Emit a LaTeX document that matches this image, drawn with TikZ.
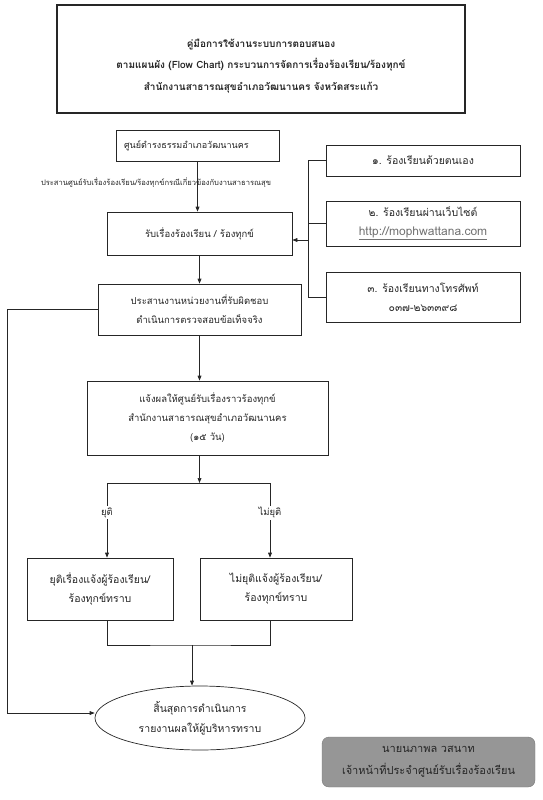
\documentclass[tikz,border=0pt]{standalone}
\usepackage{fontspec}
\newfontfamily\thaifont[Script=Thai]{Loma}
\usetikzlibrary{positioning, arrows.meta, shapes.geometric}
\definecolor{ink}{RGB}{38,38,38}
\definecolor{urlgrey}{RGB}{115,115,115}
\definecolor{plate}{RGB}{150,150,150}

\begin{document}
\begin{tikzpicture}[x=1pt, y=-1pt,
    box/.style={draw=ink, line width=0.7pt, fill=white, text=ink, align=center,
                font=\thaifont\fontsize{9.5}{19}\selectfont, inner sep=2pt},
    srcbox/.style={box, minimum width=194pt, font=\thaifont\fontsize{10.5}{19}\selectfont},
    link/.style={draw=ink, line width=0.7pt},
    arr/.style={link, -{Triangle[length=5pt, width=3.8pt]}},
    tag/.style={font=\thaifont\fontsize{9.5}{11}\selectfont, text=ink, fill=white, inner sep=1.5pt}
  ]
  \useasboundingbox (0,0) rectangle (542,800);

  % heading
  \node[box, line width=1.3pt, minimum width=408pt, minimum height=108pt] (title) at (261,59) {};
  \node[text=ink, align=center, font=\thaifont\bfseries\fontsize{10}{21.5}\selectfont,
        yshift=-7pt] (heading) at (title.center)
       {คู่มือการใช้งานระบบการตอบสนอง\\
        ตามแผนผัง (Flow Chart) กระบวนการจัดการเรื่องร้องเรียน/ร้องทุกข์\\
        สำนักงานสาธารณสุขอำเภอวัฒนานคร จังหวัดสระแก้ว};

  % main chain
  \node[box, minimum width=163pt, minimum height=31pt, text width=147pt, align=left,
        font=\thaifont\fontsize{9}{10}\selectfont]
       (center) at (197.5,145.5) {ศูนย์ดำรงธรรมอำเภอวัฒนานคร};
  \node[font=\thaifont\fontsize{7.6}{8}\selectfont, text=ink] (relay) at (156,183)
       {ประสานศูนย์รับเรื่องร้องเรียน/ร้องทุกข์กรณีเกี่ยวข้องกับงานสาธารณสุข};
  \node[box, minimum width=185pt, minimum height=43pt] (intake) at (199.5,233.5)
       {รับเรื่องร้องเรียน / ร้องทุกข์};
  \node[box, minimum width=203pt, minimum height=51pt] (check) at (199.5,309.5)
       {ประสานงานหน่วยงานที่รับผิดชอบ\\ดำเนินการตรวจสอบข้อเท็จจริง};
  \node[box, minimum width=241pt, minimum height=74pt] (notify) at (207.5,418)
       {แจ้งผลให้ศูนย์รับเรื่องราวร้องทุกข์\\สำนักงานสาธารณสุขอำเภอวัฒนานคร\\(๑๕ วัน)};
  \node[box, minimum width=146pt, minimum height=62pt, font=\thaifont\fontsize{10.5}{19}\selectfont]
       (closed) at (100,589) {ยุติเรื่องแจ้งผู้ร้องเรียน/\\ร้องทุกข์ทราบ};
  \node[box, minimum width=152pt, minimum height=62pt, font=\thaifont\fontsize{10.5}{19}\selectfont]
       (open) at (276,589) {ไม่ยุติแจ้งผู้ร้องเรียน/\\ร้องทุกข์ทราบ};
  \node[box, ellipse, minimum width=210pt, minimum height=64pt,
        font=\thaifont\fontsize{10.5}{20}\selectfont] (done) at (200,718)
       {สิ้นสุดการดำเนินการ\\รายงานผลให้ผู้บริหารทราบ};

  % channels
  \node[srcbox, minimum height=31pt] (walkin) at (423,160.5) {๑. ร้องเรียนด้วยตนเอง};
  \node[srcbox, minimum height=45pt] (web) at (423,223.5)
       {๒. ร้องเรียนผ่านเว็บไซต์\\{\fontsize{12}{19}\selectfont\color{urlgrey}\underline{http://mophwattana.com}}};
  \node[srcbox, minimum height=50pt] (phone) at (423,297)
       {๓. ร้องเรียนทางโทรศัพท์\\๐๓๗-๒๖๓๓๙๘};

  % signature plate
  \node[draw=plate!80!black, fill=plate, rounded corners=7pt, minimum width=213pt,
        minimum height=50pt, align=center, text=ink,
        font=\thaifont\fontsize{11}{22}\selectfont] (sign) at (428.5,762)
       {นายนภาพล วสนาท\\เจ้าหน้าที่ประจำศูนย์รับเรื่องร้องเรียน};

  % connectors
  \coordinate (bus) at (308,240);
  \coordinate (fork) at (199.5,483);
  \coordinate (join) at (192,645);
  \draw[arr] (center.south) -- (center.south |- intake.north);
  \draw[link] (walkin.west) -| (bus |- phone.west) -- (phone.west);
  \draw[link] (web.west) -- (bus |- web.west);
  \draw[arr] (bus) -- (bus -| intake.east);
  \draw[arr] (intake.south) -- (check.north);
  \draw[arr] (check.south) -- (check.south |- notify.north);
  \draw[arr] (fork |- notify.south) -- (fork);
  \draw[arr] (fork) -| node[tag, pos=0.7] {ยุติ} ([xshift=7pt]closed.north);
  \draw[arr] (fork) -| node[tag, pos=0.7] {ไม่ยุติ} ([xshift=-6pt]open.north);
  \draw[link] ([xshift=7pt]closed.south) |- (join) -| ([xshift=-6pt]open.south);
  \draw[arr] (join) -- (join |- done.north);
  \draw[arr] (check.west) -- ++(-90,0) |- ([yshift=5pt]done.west);
\end{tikzpicture}
\end{document}
